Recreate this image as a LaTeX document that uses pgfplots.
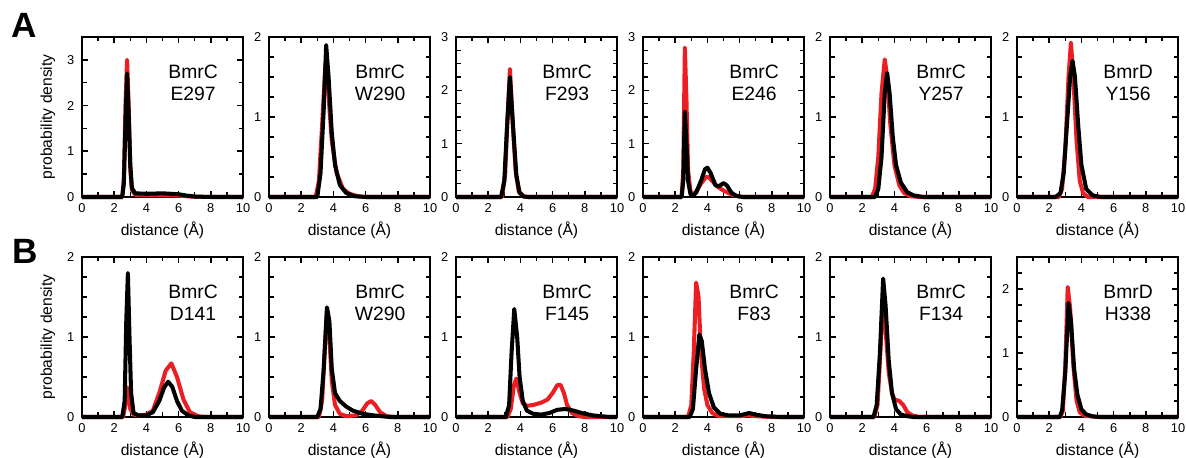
\documentclass[border=0pt]{standalone}
\usepackage{fontspec}
\setmainfont{Liberation Sans}
\usepackage{pgfplots}
\pgfplotsset{compat=1.18}
\definecolor{pdred}{RGB}{235,30,35}

\pgfplotsset{
  panel/.style={
    scale only axis, width=3.22cm, height=3.2cm, anchor=north west,
    xmin=0, xmax=10, ymin=0, clip=false,
    xtick={0,2,4,6,8,10}, minor xtick={1,3,5,7,9},
    tick pos=both, tick align=inside,
    major tick length=0.12cm, minor tick length=0.09cm,
    axis line style={line width=1.1pt},
    every tick/.style={line width=0.9pt, black},
    tick label style={font=\fontsize{7.3}{8}\selectfont},
    yticklabel style={xshift=-0.03cm},
    /pgf/number format/assume math mode=true,
    xlabel={distance (Å)},
    label style={font=\fontsize{8.9}{10}\selectfont},
    xlabel style={yshift=0.05cm},
  },
  rcurve/.style={pdred, line width=2.3pt, line join=round},
  kcurve/.style={black, line width=2.3pt, line join=round},
  q25/.style={minor ytick={0.25,0.5,0.75,1.25,1.5,1.75,2.25,2.5,2.75}},
}
\newcommand{\pname}[2]{\node[font=\fontsize{11}{12.5}\selectfont, align=center] at (rel axis cs:0.69,0.715) {#1\\#2};}

\begin{document}
\begin{tikzpicture}
\path[use as bounding box] (0,0) rectangle (23.72,-9.16);
\node[font=\fontsize{20}{24}\bfseries] at (0.48,-0.5) {A};
\node[font=\fontsize{20}{24}\bfseries] at (0.5,-5.02) {B};

% ---- row A ----
\begin{axis}[panel, at={(1.64cm,-0.74cm)}, ymax=3.5, ytick={0,1,2,3},
  minor ytick={0.5,1.5,2.5}, ylabel={probability density}]
\addplot[rcurve] coordinates {(0,0)(2.5,0)(2.6,0.4)(2.7,2.0)(2.8,3.0)(2.9,2.0)(3.0,0.6)(3.1,0.15)(3.3,0.05)(4,0.04)(5,0.04)(6,0.03)(7,0.005)(10,0)};
\addplot[kcurve] coordinates {(0,0)(2.5,0)(2.6,0.3)(2.7,1.6)(2.8,2.7)(2.9,1.8)(3.0,0.7)(3.1,0.2)(3.3,0.08)(4,0.07)(5,0.08)(6,0.06)(6.5,0.03)(7,0.01)(8,0)(10,0)};
\pname{BmrC}{E297}
\end{axis}

\begin{axis}[panel, at={(5.38cm,-0.74cm)}, ymax=2, ytick={0,1,2}, q25]
\addplot[rcurve] coordinates {(0,0)(2.9,0)(3.1,0.2)(3.3,0.9)(3.5,1.65)(3.65,1.4)(3.9,0.7)(4.2,0.3)(4.6,0.1)(5,0.04)(5.5,0.01)(6,0)(10,0)};
\addplot[kcurve] coordinates {(0,0)(3.0,0)(3.2,0.3)(3.4,1.1)(3.55,1.9)(3.7,1.5)(3.9,0.8)(4.1,0.4)(4.4,0.15)(4.8,0.05)(5.3,0.01)(6,0)(10,0)};
\pname{BmrC}{W290}
\end{axis}

\begin{axis}[panel, at={(9.12cm,-0.74cm)}, ymax=3, ytick={0,1,2,3}, q25]
\addplot[rcurve] coordinates {(0,0)(2.85,0)(3.05,0.4)(3.2,1.5)(3.35,2.4)(3.5,1.5)(3.7,0.5)(3.9,0.1)(4.2,0.01)(4.5,0)(10,0)};
\addplot[kcurve] coordinates {(0,0)(2.8,0)(3.0,0.3)(3.15,1.2)(3.35,2.25)(3.55,1.3)(3.75,0.4)(3.95,0.08)(4.2,0.01)(4.5,0)(10,0)};
\pname{BmrC}{F293}
\end{axis}

\begin{axis}[panel, at={(12.86cm,-0.74cm)}, ymax=3, ytick={0,1,2,3}, q25]
\addplot[rcurve] coordinates {(0,0)(2.4,0)(2.5,0.5)(2.6,2.8)(2.7,1.8)(2.8,0.5)(2.95,0.1)(3.1,0.04)(3.3,0.1)(3.6,0.25)(3.9,0.37)(4.05,0.38)(4.3,0.3)(4.6,0.2)(5.0,0.12)(5.4,0.06)(5.8,0.02)(6.2,0)(10,0)};
\addplot[kcurve] coordinates {(0,0)(2.4,0)(2.5,0.3)(2.6,1.6)(2.7,1.0)(2.8,0.3)(2.95,0.05)(3.1,0.02)(3.3,0.08)(3.6,0.3)(3.85,0.52)(4.0,0.55)(4.2,0.45)(4.5,0.22)(4.7,0.2)(5.0,0.26)(5.2,0.22)(5.5,0.08)(5.8,0.02)(6.2,0)(10,0)};
\pname{BmrC}{E246}
\end{axis}

\begin{axis}[panel, at={(16.60cm,-0.74cm)}, ymax=2, ytick={0,1,2}, q25]
\addplot[rcurve] coordinates {(0,0)(2.6,0)(2.8,0.1)(3.0,0.5)(3.2,1.3)(3.4,1.72)(3.55,1.5)(3.75,0.9)(4.0,0.4)(4.3,0.15)(4.6,0.05)(5,0.01)(5.5,0)(10,0)};
\addplot[kcurve] coordinates {(0,0)(2.8,0)(3.0,0.1)(3.2,0.5)(3.4,1.3)(3.55,1.55)(3.7,1.3)(3.9,0.75)(4.1,0.4)(4.4,0.18)(4.8,0.06)(5.2,0.02)(5.8,0)(10,0)};
\pname{BmrC}{Y257}
\end{axis}

\begin{axis}[panel, at={(20.34cm,-0.74cm)}, ymax=2, ytick={0,1,2}, q25]
\addplot[rcurve] coordinates {(0,0)(2.6,0)(2.8,0.1)(3.0,0.6)(3.2,1.5)(3.35,1.93)(3.5,1.5)(3.7,0.7)(3.9,0.2)(4.1,0.05)(4.4,0)(10,0)};
\addplot[kcurve] coordinates {(0,0)(2.4,0)(2.7,0.05)(2.9,0.3)(3.1,0.9)(3.3,1.5)(3.45,1.7)(3.6,1.5)(3.8,0.9)(4.0,0.4)(4.3,0.1)(4.7,0.02)(5.2,0)(10,0)};
\pname{BmrD}{Y156}
\end{axis}

% ---- row B ----
\begin{axis}[panel, at={(1.64cm,-5.14cm)}, ymax=2, ytick={0,1,2}, q25,
  ylabel={probability density}]
\addplot[rcurve] coordinates {(0,0)(2.55,0)(2.7,0.15)(2.8,0.37)(2.9,0.3)(3.0,0.1)(3.2,0.03)(3.5,0.02)(4,0.03)(4.4,0.08)(4.8,0.3)(5.2,0.58)(5.55,0.67)(5.9,0.5)(6.3,0.22)(6.7,0.06)(7.2,0.01)(7.6,0)(10,0)};
\addplot[kcurve] coordinates {(0,0)(2.5,0)(2.65,0.2)(2.75,1.2)(2.85,1.8)(2.95,1.0)(3.05,0.3)(3.2,0.05)(3.5,0.02)(4,0.02)(4.4,0.06)(4.8,0.2)(5.1,0.37)(5.35,0.44)(5.6,0.38)(5.9,0.2)(6.2,0.08)(6.6,0.02)(7,0)(10,0)};
\pname{BmrC}{D141}
\end{axis}

\begin{axis}[panel, at={(5.38cm,-5.14cm)}, ymax=2, ytick={0,1,2}, q25]
\addplot[rcurve] coordinates {(0,0)(3.1,0)(3.3,0.2)(3.45,0.8)(3.6,1.33)(3.75,1.0)(3.9,0.45)(4.1,0.15)(4.4,0.04)(4.8,0.01)(5.4,0.02)(5.8,0.08)(6.1,0.17)(6.35,0.2)(6.6,0.15)(6.9,0.06)(7.3,0.01)(7.8,0)(10,0)};
\addplot[kcurve] coordinates {(0,0)(3.0,0)(3.2,0.1)(3.4,0.6)(3.6,1.37)(3.75,1.2)(3.9,0.6)(4.1,0.3)(4.4,0.2)(4.8,0.13)(5.2,0.08)(5.8,0.04)(6.5,0.02)(7.5,0)(10,0)};
\pname{BmrC}{W290}
\end{axis}

\begin{axis}[panel, at={(9.12cm,-5.14cm)}, ymax=2, ytick={0,1,2}, q25]
\addplot[rcurve] coordinates {(0,0)(3.2,0)(3.4,0.1)(3.6,0.4)(3.75,0.48)(3.95,0.3)(4.15,0.17)(4.4,0.14)(4.8,0.15)(5.3,0.18)(5.7,0.22)(6.0,0.3)(6.3,0.4)(6.5,0.4)(6.7,0.3)(6.9,0.15)(7.2,0.05)(7.6,0.01)(8,0)(10,0)};
\addplot[kcurve] coordinates {(0,0)(3.1,0)(3.3,0.15)(3.45,0.8)(3.62,1.35)(3.8,1.0)(3.95,0.5)(4.15,0.2)(4.4,0.08)(4.8,0.04)(5.3,0.03)(5.8,0.05)(6.3,0.09)(6.8,0.1)(7.3,0.08)(7.8,0.05)(8.5,0.02)(9.5,0)(10,0)};
\pname{BmrC}{F145}
\end{axis}

\begin{axis}[panel, at={(12.86cm,-5.14cm)}, ymax=2, ytick={0,1,2}, q25]
\addplot[rcurve] coordinates {(0,0)(2.8,0)(3.0,0.15)(3.15,0.8)(3.3,1.68)(3.45,1.5)(3.6,0.8)(3.8,0.35)(4.0,0.15)(4.3,0.05)(4.7,0.01)(5.5,0.01)(6,0.01)(6.5,0.02)(7,0.01)(8,0)(10,0)};
\addplot[kcurve] coordinates {(0,0)(2.9,0)(3.1,0.1)(3.3,0.6)(3.5,1.03)(3.65,0.95)(3.85,0.6)(4.1,0.3)(4.4,0.12)(4.8,0.04)(5.3,0.02)(6.0,0.02)(6.6,0.05)(7.0,0.03)(7.6,0.01)(8.5,0)(10,0)};
\pname{BmrC}{F83}
\end{axis}

\begin{axis}[panel, at={(16.60cm,-5.14cm)}, ymax=2, ytick={0,1,2}, q25]
\addplot[rcurve] coordinates {(0,0)(2.75,0)(2.95,0.15)(3.1,0.7)(3.3,1.5)(3.45,1.1)(3.65,0.55)(3.85,0.3)(4.0,0.22)(4.3,0.2)(4.55,0.15)(4.8,0.06)(5.1,0.02)(5.5,0)(10,0)};
\addplot[kcurve] coordinates {(0,0)(2.7,0)(2.9,0.15)(3.1,0.8)(3.3,1.73)(3.45,1.4)(3.65,0.7)(3.85,0.3)(4.1,0.1)(4.4,0.03)(4.8,0.01)(5.2,0)(10,0)};
\pname{BmrC}{F134}
\end{axis}

\begin{axis}[panel, at={(20.34cm,-5.14cm)}, ymax=2.5, ytick={0,1,2}, q25]
\addplot[rcurve] coordinates {(0,0)(2.7,0)(2.85,0.1)(3.0,0.8)(3.15,2.03)(3.3,1.7)(3.5,0.8)(3.7,0.25)(3.9,0.07)(4.2,0.02)(4.6,0.01)(5,0)(10,0)};
\addplot[kcurve] coordinates {(0,0)(2.65,0)(2.8,0.1)(3.0,0.7)(3.2,1.78)(3.35,1.5)(3.55,0.75)(3.75,0.35)(4.0,0.12)(4.3,0.04)(4.7,0.01)(5.2,0)(10,0)};
\pname{BmrD}{H338}
\end{axis}
\end{tikzpicture}
\end{document}
